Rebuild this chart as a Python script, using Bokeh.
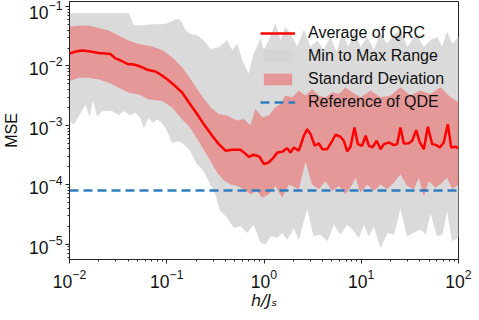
import numpy as np
from bokeh.plotting import figure
from bokeh.models import Range1d, FixedTicker, Legend, LegendItem
from bokeh.embed import file_html
from bokeh.resources import INLINE

# ---- data ----
mean_x = [0.0100, 0.0115, 0.0136, 0.0164, 0.0199, 0.0235, 0.0264, 0.0297, 0.0334, 0.0395,
          0.0455, 0.0500, 0.0563, 0.0619, 0.0681, 0.0766, 0.0862, 0.101, 0.118, 0.144,
          0.169, 0.206, 0.240, 0.293, 0.343, 0.402, 0.471, 0.573, 0.620, 0.698,
          0.786, 0.899, 0.995, 1.12, 1.26, 1.37, 1.54, 1.73, 1.87, 2.03,
          2.28, 2.57, 2.78, 3.01, 3.33, 3.66, 3.97, 4.47, 5.03, 5.44,
          6.12, 6.62, 7.17, 7.75, 8.52, 9.22, 10.2, 11.1, 12.0, 13.0,
          14.4, 15.8, 17.1, 19.2, 21.6, 23.4, 25.3, 27.4, 30.8, 33.4,
          36.7, 40.0, 44.0, 48.4, 53.7, 59.4, 64.2, 70.6, 77.6, 84.1, 93.1, 100.0]
mean_mse = [0.0162, 0.0175, 0.0182, 0.0175, 0.0166, 0.0162, 0.0159, 0.0134, 0.0124, 0.0108,
            0.0106, 0.0102, 0.00944, 0.00873, 0.00840, 0.00808, 0.00719, 0.00599, 0.00483, 0.00358,
            0.00243, 0.00154, 0.00105, 0.000668, 0.000483, 0.000374, 0.000388, 0.000388, 0.000350, 0.000296,
            0.000320, 0.000296, 0.000222, 0.000237, 0.000288, 0.000350, 0.000359, 0.000413, 0.000350, 0.000424,
            0.000374, 0.000668, 0.000863, 0.000711, 0.000453, 0.000496, 0.000397, 0.000397, 0.000550, 0.000695,
            0.000643, 0.000550, 0.000364, 0.000436, 0.000922, 0.000483, 0.000453, 0.000668, 0.000453, 0.000424,
            0.000550, 0.000397, 0.000483, 0.000515, 0.000464, 0.000483, 0.000922, 0.000496, 0.000501, 0.000550,
            0.000830, 0.000515, 0.000397, 0.000947, 0.000483, 0.000464, 0.000424, 0.000515, 0.00105, 0.000424,
            0.000436, 0.000413]

std_hi_x = [0.0100, 0.0125, 0.0158, 0.0200, 0.0254, 0.0321, 0.0407, 0.0516, 0.0709, 0.0898,
            0.114, 0.144, 0.175, 0.222, 0.282, 0.343, 0.418, 0.530, 0.620, 0.726,
            0.818, 0.958, 1.12, 1.31, 1.48, 1.66, 1.95, 2.28, 2.67, 3.13,
            3.66, 4.29, 5.03, 5.88, 6.89, 8.07, 9.82, 12.5, 15.8, 20.0,
            25.3, 32.1, 40.7, 51.5, 65.3, 82.8, 100.0]
std_hi = [0.0457, 0.0475, 0.0475, 0.0433, 0.0391, 0.0323, 0.0266, 0.0233, 0.0210, 0.0185,
          0.0139, 0.00944, 0.00599, 0.00335, 0.00200, 0.00154, 0.00145, 0.00120, 0.00127, 0.000985,
          0.00187, 0.00136, 0.00145, 0.00200, 0.00228, 0.00315, 0.00295, 0.00382, 0.00315, 0.00407,
          0.00315, 0.00295, 0.00358, 0.00335, 0.00435, 0.00358, 0.00295, 0.00382, 0.00295, 0.00315,
          0.00435, 0.00315, 0.00382, 0.00335, 0.00435, 0.00295, 0.00243]

std_lo_x = [0.0100, 0.0125, 0.0158, 0.0200, 0.0254, 0.0321, 0.0407, 0.0516, 0.0654, 0.0898,
            0.114, 0.144, 0.175, 0.222, 0.282, 0.330, 0.386, 0.452, 0.530, 0.620,
            0.726, 0.851, 0.958, 1.12, 1.31, 1.54, 1.80, 2.28, 2.67, 3.13,
            3.66, 4.29, 5.03, 5.88, 6.89, 8.07, 8.73, 9.82, 11.5, 13.5,
            15.8, 18.5, 21.6, 25.3, 29.7, 34.7, 39.1, 44.0, 49.5, 58.0,
            68.0, 76.5, 86.2, 100.0]
std_lo = [0.00563, 0.00640, 0.00640, 0.00599, 0.00528, 0.00435, 0.00358, 0.00335, 0.00276, 0.00259,
          0.00200, 0.00127, 0.000922, 0.000483, 0.000254, 0.000161, 0.000120, 0.000102, 0.0000962, 0.0000843,
          0.0000695, 0.0000793, 0.0000611, 0.0000695, 0.0000962, 0.0000611, 0.000102, 0.0000843, 0.000254, 0.000102,
          0.0000843, 0.000117, 0.0000793, 0.0000962, 0.0000695, 0.000102, 0.000133, 0.0000742, 0.000102, 0.0000793,
          0.000102, 0.0000843, 0.000109, 0.000151, 0.0000962, 0.0000843, 0.000133, 0.0000653, 0.000117, 0.0000900,
          0.000109, 0.000133, 0.0000843, 0.000102]

max_x = [0.0100, 0.0407, 0.0455, 0.0516, 0.0709, 0.0971, 0.128, 0.138, 0.156, 0.175,
         0.206, 0.240, 0.282, 0.343, 0.418, 0.471, 0.530, 0.597, 0.698, 0.786,
         0.921, 0.995, 1.12, 1.31, 1.48, 1.66, 1.87, 2.19, 2.57, 3.01,
         3.52, 4.12, 4.83, 5.56, 6.42, 7.39, 8.52, 9.82, 11.5, 13.5,
         15.8, 18.5, 21.6, 25.3, 29.7, 36.7, 44.0, 51.5, 60.4, 68.0,
         76.5, 86.2, 100.0]
max_mse = [0.0765, 0.0765, 0.0481, 0.0475, 0.0494, 0.0505, 0.0614, 0.0590, 0.0391, 0.0343,
           0.0323, 0.0266, 0.0190, 0.0205, 0.0266, 0.0180, 0.0233, 0.0122, 0.00719, 0.0158,
           0.0283, 0.0180, 0.0266, 0.0505, 0.0266, 0.0445, 0.0343, 0.0205, 0.0391, 0.0205,
           0.0266, 0.0180, 0.0302, 0.0169, 0.0339, 0.0205, 0.0366, 0.0205, 0.0302, 0.0182,
           0.0343, 0.0230, 0.0326, 0.0391, 0.0205, 0.0343, 0.0205, 0.0269, 0.0302, 0.0205,
           0.0366, 0.0233, 0.0302]

min_x = [0.0100, 0.0111, 0.0130, 0.0146, 0.0161, 0.0174, 0.0193, 0.0217, 0.0275, 0.0321,
         0.0362, 0.0424, 0.0477, 0.0537, 0.0581, 0.0645, 0.0719, 0.0798, 0.0898, 0.101,
         0.114, 0.133, 0.150, 0.175, 0.206, 0.240, 0.282, 0.317, 0.357, 0.418,
         0.489, 0.573, 0.672, 0.786, 0.884, 0.921, 1.04, 1.17, 1.37, 1.54,
         1.73, 2.03, 2.28, 2.78, 3.25, 3.81, 4.47, 5.22, 6.12, 7.17,
         8.38, 9.44, 10.6, 12.0, 13.5, 15.8, 18.5, 21.6, 25.3, 29.7,
         34.7, 40.7, 45.8, 51.5, 60.4, 68.0, 76.5, 86.2, 100.0]
min_mse = [0.00120, 0.00105, 0.00165, 0.00228, 0.00145, 0.00276, 0.00145, 0.00176, 0.00176, 0.00151,
           0.00176, 0.00151, 0.00165, 0.00136, 0.000922, 0.00136, 0.00112, 0.00127, 0.00112, 0.000811,
           0.000515, 0.000550, 0.000483, 0.000374, 0.000222, 0.000172, 0.000102, 0.0000695, 0.0000365, 0.0000281,
           0.0000191, 0.0000204, 0.0000157, 0.0000217, 0.0000130, 0.0000107, 0.0000100, 0.0000138, 0.0000130, 0.0000157,
           0.0000121, 0.0000191, 0.0000121, 0.0000415, 0.0000138, 0.0000147, 0.0000114, 0.0000217, 0.0000147, 0.0000217,
           0.0000168, 0.0000130, 0.0000217, 0.0000138, 0.0000204, 0.0000088, 0.0000157, 0.0000147, 0.0000415, 0.0000138,
           0.0000157, 0.0000179, 0.0000147, 0.0000342, 0.0000138, 0.0000147, 0.0000388, 0.0000114, 0.0000130]

ref_mse = 8.0e-5

x_limits = (0.01, 100.0)
y_limits = (5.5e-6, 0.122)
x_major = [1e-2, 1e-1, 1e0, 1e1, 1e2]
y_major = [1e-5, 1e-4, 1e-3, 1e-2, 1e-1]

labels = ["Average of QRC", "Min to Max Range", "Standard Deviation", "Reference of QDE"]
x_title = "h/Jₛ"
y_title = "MSE"

FONT = "Liberation Sans"


def minor_ticks(lo, hi):
    out = []
    for e in range(int(np.floor(np.log10(lo))) - 1, int(np.ceil(np.log10(hi))) + 1):
        for k in range(2, 10):
            v = k * 10.0 ** e
            if lo <= v <= hi:
                out.append(v)
    return out


p = figure(frame_width=389, frame_height=258, x_axis_type="log", y_axis_type="log",
           x_range=Range1d(*x_limits), y_range=Range1d(*y_limits),
           output_backend="svg", toolbar_location=None,
           min_border_left=61, min_border_right=21, min_border_top=1, min_border_bottom=44)
p.xgrid.visible = False
p.ygrid.visible = False
p.outline_line_color = "#222222"
p.outline_line_width = 1
p.background_fill_color = "white"
p.border_fill_color = "white"

gray = p.patch(max_x + min_x[::-1], max_mse + min_mse[::-1],
               fill_color="#d3d3d3", fill_alpha=0.85, line_color="#d3d3d3", line_alpha=0.5, line_width=1)
pink = p.patch(std_hi_x + std_lo_x[::-1], std_hi + std_lo[::-1],
               fill_color="red", fill_alpha=0.3, line_color="red", line_alpha=0.08, line_width=1)
avg = p.line(mean_x, mean_mse, line_color="red", line_width=2.5)
ref = p.hspan(y=[ref_mse], line_color="#2f7cc0", line_width=2.5, line_dash="9 5")

legend = Legend(items=[LegendItem(label=labels[0], renderers=[avg]),
                       LegendItem(label=labels[1], renderers=[gray]),
                       LegendItem(label=labels[2], renderers=[pink]),
                       LegendItem(label=labels[3], renderers=[ref])],
                location=(191, 148), border_line_alpha=0, background_fill_alpha=0,
                label_text_font=FONT, label_text_font_size="16px", label_text_color="#111111",
                glyph_width=35, glyph_height=14, label_height=18, label_standoff=13,
                spacing=5, padding=0, margin=0)
p.add_layout(legend, "center")

for ax in (p.xaxis[0], p.yaxis[0]):
    ax.major_label_text_font = FONT
    ax.major_label_text_font_size = "17.5px"
    ax.major_label_text_color = "#111111"
    ax.axis_line_color = "#222222"
    ax.major_tick_line_color = "#222222"
    ax.minor_tick_line_color = "#222222"
    ax.major_tick_in = 0
    ax.major_tick_out = 4
    ax.minor_tick_in = 0
    ax.minor_tick_out = 2
    ax.axis_label_text_font_size = "16px"
    ax.axis_label_text_color = "#111111"

p.xaxis.ticker = FixedTicker(ticks=x_major, minor_ticks=minor_ticks(*x_limits))
p.yaxis.ticker = FixedTicker(ticks=y_major, minor_ticks=minor_ticks(*y_limits))
p.xaxis.major_label_standoff = 5
p.yaxis.major_label_standoff = 3

p.xaxis.axis_label = x_title
p.xaxis.axis_label_text_font = "DejaVu Sans"
p.xaxis.axis_label_text_font_style = "italic"
p.xaxis.axis_label_standoff = 0
p.yaxis.axis_label = y_title
p.yaxis.axis_label_text_font = FONT
p.yaxis.axis_label_text_font_style = "normal"
p.yaxis.axis_label_standoff = 6

open("out.html", "w").write(file_html(p, INLINE))
